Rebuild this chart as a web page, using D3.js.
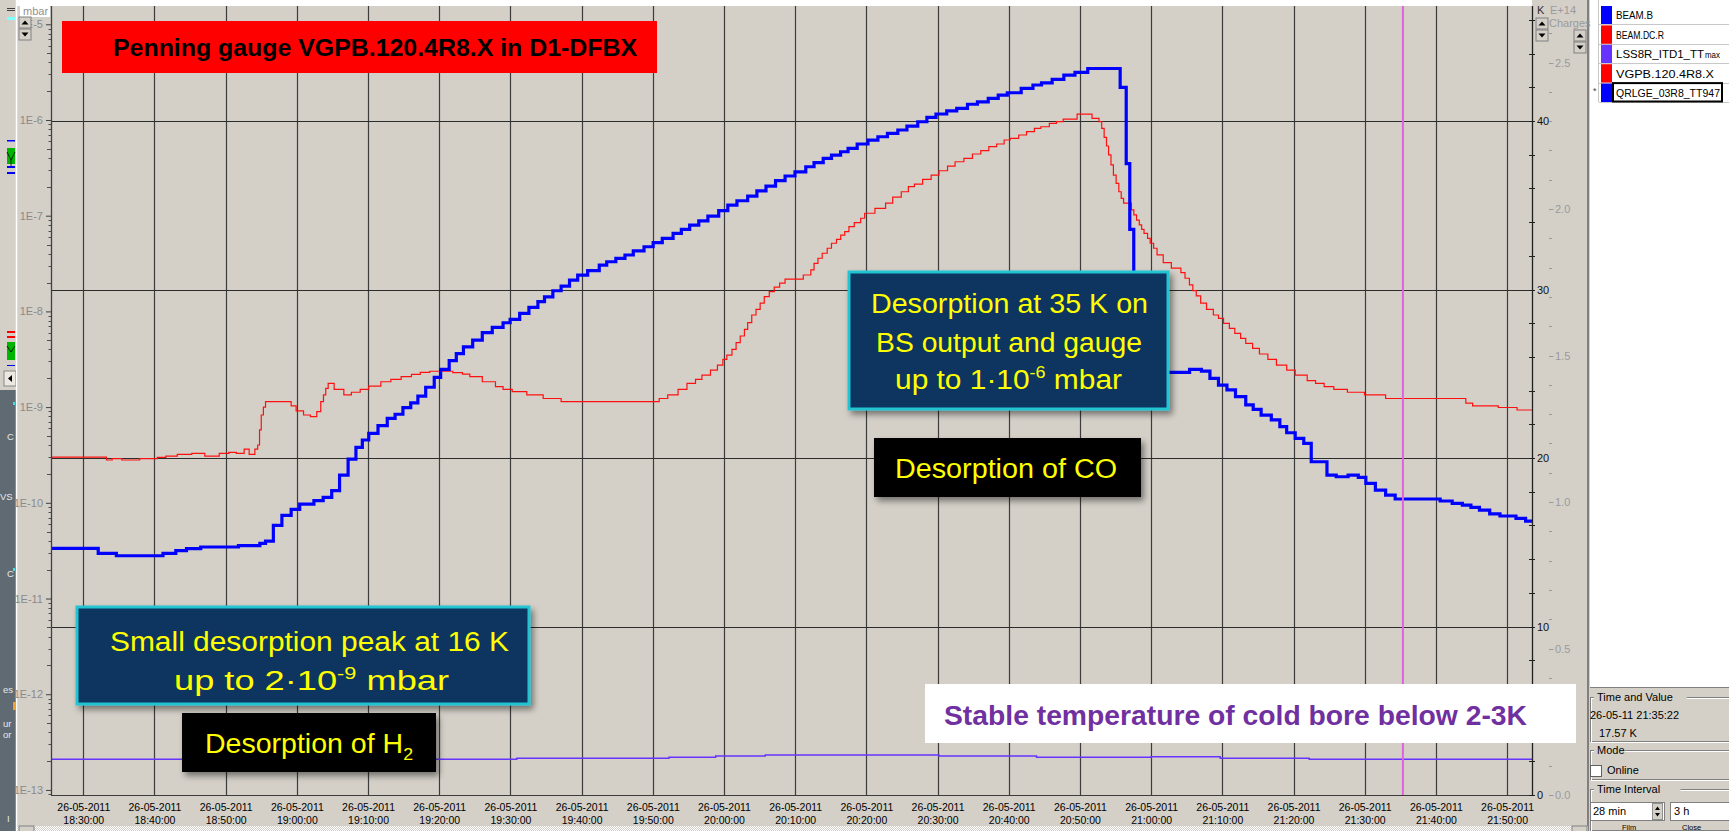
<!DOCTYPE html>
<html>
<head>
<meta charset="utf-8">
<script src="https://cdn.jsdelivr.net/npm/d3@7/dist/d3.min.js"></script>
<style>
html,body{margin:0;padding:0;background:#fff;overflow:hidden;}
svg{display:block;}
text{font-family:"Liberation Sans",Arial,sans-serif;}
</style>
</head>
<body>
<svg id="chart" width="1729" height="831"></svg>
<script>
// ------------------------- DATA -------------------------
const dateLabel = "26-05-2011";
const timeTickLabels = ["18:30:00","18:40:00","18:50:00","19:00:00","19:10:00","19:20:00","19:30:00",
  "19:40:00","19:50:00","20:00:00","20:10:00","20:20:00","20:30:00","20:40:00","20:50:00","21:00:00",
  "21:10:00","21:20:00","21:30:00","21:40:00","21:50:00"];
const timeStart = "18:25:28";
const timeEnd = "21:53:30";
const cursorTime = "21:35:22";
const pressureDecades = [1e-5,1e-6,1e-7,1e-8,1e-9,1e-10,1e-11,1e-12,1e-13];
const kelvinLabels = [0,10,20,30,40];
const chargeLabels = [0.0,0.5,1.0,1.5,2.0,2.5];

// [minutes after 18:30:00, temperature K]  -- QRLGE_03R8_TT947 (blue)
const qrlgeTT947 = [[-4.5,14.64],[2.1,14.34],[4.65,14.2],[11.2,14.34],[13.0,14.5],[14.5,14.62],[16.5,14.72],
 [21.8,14.8],[24.8,14.94],[25.6,15.07],[26.7,16.0],[27.9,16.6],[29.2,16.95],[30.4,17.27],[32.4,17.47],
 [33.7,17.67],[34.9,18.06],[36.0,18.99],[37.2,19.94],[38.3,20.63],[39.2,21.07],[40.1,21.46],[41.4,21.92],
 [42.7,22.35],[43.8,22.6],[44.9,22.99],[46.0,23.28],[47.0,23.68],[48.1,24.2],[49.3,24.79],[50.2,25.26],
 [51.4,25.78],[52.4,26.2],[53.4,26.6],[54.7,27.0],[56.05,27.44],[57.45,27.75],[58.97,28.03],[59.96,28.23],
 [61.3,28.59],[62.6,28.94],[63.86,29.28],[64.79,29.57],[65.96,29.93],[67.12,30.2],[68.3,30.56],[69.45,30.86],
 [70.85,31.12],[72.48,31.45],[73.53,31.65],[74.81,31.85],[76.09,32.05],[77.26,32.3],[78.77,32.54],[80.05,32.78],
 [81.33,33.04],[82.85,33.33],[84.01,33.57],[85.18,33.83],[86.46,34.08],[87.74,34.36],[89.26,34.68],[90.54,35.01],
 [91.82,35.27],[93.33,35.55],[94.62,35.86],[95.9,36.14],[97.24,36.46],[98.58,36.74],[99.97,36.99],[101.49,37.29],
 [102.65,37.53],[103.94,37.79],[105.1,37.98],[106.38,38.18],[107.43,38.38],[108.71,38.64],[110.23,38.87],
 [111.62,39.07],[112.96,39.27],[114.42,39.47],[115.7,39.7],[117.22,39.96],[118.5,40.22],[119.78,40.42],
 [121.29,40.61],[122.69,40.75],[124.2,41.0],[125.6,41.14],[127.12,41.35],[128.52,41.54],[129.8,41.68],
 [131.75,41.94],[133.4,42.14],[134.6,42.27],[136.1,42.47],[137.74,42.73],[139.3,42.89],[141.1,43.12],
 [145.65,42.0],[146.5,37.48],[147.0,33.57],[147.56,25.09],[155.4,25.26],[157.06,25.16],[158.26,24.73],
 [159.46,24.33],[160.65,24.04],[161.85,23.64],[163.29,23.15],[164.34,22.89],[165.45,22.55],[166.88,22.26],
 [168.08,21.86],[169.04,21.5],[170.24,21.17],[171.44,20.87],[172.49,19.78],[174.7,18.99],[176.0,18.89],
 [177.67,18.99],[179.1,18.85],[180.16,18.5],[181.5,18.1],[182.94,17.8],[184.28,17.57],[190.6,17.45],
 [192.29,17.31],[193.72,17.21],[194.92,17.07],[196.12,16.91],[197.56,16.68],[199.0,16.56],[201.25,16.42],
 [202.6,16.26]];

// [minutes after 18:30:00, pressure mbar]  -- VGPB.120.4R8.X (red)
const vgpb120 = [[-4.54,3.0e-10],[3.26,2.8e-10],[4.06,2.89e-10],[5.4,2.8e-10],[7.93,2.89e-10],[10.4,2.99e-10],
 [11.6,3.08e-10],[13.2,3.21e-10],[15.24,3.29e-10],[17.07,3.08e-10],[19.1,3.29e-10],[20.46,3.37e-10],[21.5,3.29e-10],
 [22.6,3.63e-10],[23.3,3.21e-10],[24.1,3.63e-10],[24.5,4.02e-10],[24.76,5.77e-10],[25.0,8.27e-10],[25.3,1.0e-9],
 [25.6,1.14e-9],[29.2,1.03e-9],[29.9,9.12e-10],[30.94,8.27e-10],[31.9,7.94e-10],[32.8,8.95e-10],[33.36,1.14e-9],
 [33.74,1.34e-9],[34.06,1.57e-9],[34.4,1.77e-9],[35.24,1.53e-9],[36.6,1.34e-9],[37.66,1.43e-9],[38.9,1.53e-9],
 [40.1,1.66e-9],[41.8,1.84e-9],[43.2,1.95e-9],[44.65,2.08e-9],[46.1,2.2e-9],[47.34,2.31e-9],[48.68,2.37e-9],
 [51.9,2.29e-9],[53.26,2.21e-9],[54.3,2.08e-9],[56.05,1.84e-9],[57.9,1.64e-9],[58.97,1.53e-9],[60.25,1.45e-9],
 [62.3,1.34e-9],[64.6,1.23e-9],[67.12,1.14e-9],[80.9,1.23e-9],[82.1,1.34e-9],[83.55,1.53e-9],[84.8,1.77e-9],
 [86.0,1.95e-9],[86.9,2.16e-9],[88.1,2.43e-9],[89.08,2.75e-9],[89.84,3.15e-9],[90.4,3.5e-9],[91.12,4.01e-9],
 [91.7,4.71e-9],[92.28,5.53e-9],[92.87,6.5e-9],[93.33,7.62e-9],[93.9,9.17e-9],[94.5,1.05e-8],[95.08,1.22e-8],
 [95.66,1.43e-8],[96.36,1.61e-8],[97.06,1.79e-8],[97.82,1.97e-8],[98.58,2.17e-8],[101.14,2.4e-8],[102.2,2.71e-8],
 [102.65,3.18e-8],[103.2,3.59e-8],[103.8,4.05e-8],[104.5,4.57e-8],[105.1,5.15e-8],[105.8,5.67e-8],[106.4,6.28e-8],
 [106.96,6.8e-8],[107.55,7.67e-8],[108.3,8.45e-8],[109.2,9.4e-8],[109.76,1.06e-7],[111.2,1.19e-7],[112.7,1.35e-7],
 [113.7,1.56e-7],[114.9,1.78e-7],[115.9,2.01e-7],[116.75,2.14e-7],[117.9,2.4e-7],[119.1,2.66e-7],[120.2,2.95e-7],
 [121.4,3.3e-7],[122.46,3.66e-7],[123.7,3.98e-7],[124.9,4.41e-7],[126.07,4.78e-7],[127.2,5.26e-7],[128.3,5.61e-7],
 [129.35,6.18e-7],[130.2,6.44e-7],[131.4,6.97e-7],[132.5,7.55e-7],[133.6,8.18e-7],[134.5,8.5e-7],[135.7,9.23e-7],
 [136.7,9.6e-7],[137.65,1.02e-6],[139.6,1.15e-6],[141.7,1.04e-6],[142.68,9.6e-7],[143.06,8.18e-7],[143.4,6.59e-7],
 [143.73,5.35e-7],[144.02,4.31e-7],[144.36,3.39e-7],[144.7,2.66e-7],[145.08,2.18e-7],[145.46,1.78e-7],
 [145.8,1.52e-7],[146.13,1.35e-7],[147.23,1.15e-7],[147.57,1.02e-7],[147.95,9.0e-8],[148.34,8.0e-8],
 [148.67,7.21e-8],[149.0,6.55e-8],[149.5,5.8e-8],[149.87,5.15e-8],[150.35,4.57e-8],[150.83,3.89e-8],
 [151.7,3.23e-8],[152.84,2.83e-8],[154.18,2.54e-8],[154.76,2.22e-8],[155.38,1.89e-8],[155.86,1.65e-8],
 [156.34,1.45e-8],[156.96,1.22e-8],[157.78,1.05e-8],[158.74,9.17e-9],[159.46,8.47e-9],[160.17,7.51e-9],
 [160.99,6.66e-9],[161.75,5.9e-9],[162.57,5.23e-9],[163.29,4.64e-9],[164.25,4.11e-9],[165.21,3.59e-9],
 [166.4,3.16e-9],[167.6,2.75e-9],[169.04,2.44e-9],[170.24,2.16e-9],[171.92,1.89e-9],[173.1,1.77e-9],
 [174.3,1.64e-9],[175.66,1.53e-9],[177.57,1.43e-9],[179.97,1.34e-9],[182.94,1.23e-9],[194.2,1.1e-9],
 [195.16,1.03e-9],[198.76,9.9e-10],[201.4,9.33e-10]];

// [minutes after 18:30:00, temperature K]  -- LSS8R_ITD1_TTmax (violet)
const lss8rTTmax = [[-4.54,2.12],[60.9,2.18],[82.27,2.24],[88.83,2.31],[95.8,2.37],[120.2,2.31],
 [133.9,2.24],[150.0,2.27],[159.7,2.18],[172.2,2.12]];

const legendNames = ["BEAM.B","BEAM.DC.R","LSS8R_ITD1_TT","VGPB.120.4R8.X","QRLGE_03R8_TT947"];
const legendColors = ["#0000ff","#ff0000","#6633ff","#ff0000","#0000ff"];

// ------------------------- SETUP -------------------------
const svg = d3.select("#chart");
const P = {l:51, r:1532, t:6, b:795};
const parse = d3.timeParse("%d-%m-%Y %H:%M:%S");
const t0 = parse(dateLabel + " 18:30:00");
const atMin = m => new Date(t0.getTime() + m*60000);

const x = d3.scaleTime()
  .domain([parse(dateLabel+" "+timeStart), parse(dateLabel+" "+timeEnd)])
  .range([P.l, P.r]);
const yP = d3.scaleLog().domain([Math.pow(10,-13.053), Math.pow(10,-4.809)]).range([P.b, P.t]);
const yK = d3.scaleLinear().domain([0, 46.83]).range([P.b, P.t]);
const yC = d3.scaleLinear().domain([0, 2.693]).range([P.b, P.t]);
const endM = (x.domain()[1] - t0) / 60000;

const defs = svg.append("defs");
defs.append("clipPath").attr("id","plotclip").append("rect")
  .attr("x",P.l).attr("y",P.t).attr("width",P.r-P.l).attr("height",P.b-P.t);
defs.append("clipPath").attr("id","leftclip").append("rect")
  .attr("x",0).attr("y",0).attr("width",16).attr("height",831);
const f = defs.append("filter").attr("id","shadow").attr("x","-10%").attr("y","-20%").attr("width","130%").attr("height","150%");
f.append("feDropShadow").attr("dx",3).attr("dy",4).attr("stdDeviation",3).attr("flood-color","#000").attr("flood-opacity",0.45);
const pat = defs.append("pattern").attr("id","hatch").attr("width",2).attr("height",2).attr("patternUnits","userSpaceOnUse");
pat.append("rect").attr("width",2).attr("height",2).attr("fill","#d4d0c8");
pat.append("rect").attr("width",1).attr("height",1).attr("fill","#ffffff");
pat.append("rect").attr("x",1).attr("y",1).attr("width",1).attr("height",1).attr("fill","#ffffff");

// ------------------------- BACKGROUND / UI FRAME -------------------------
svg.append("rect").attr("width",1729).attr("height",831).attr("fill","#d4d0c8");
svg.append("rect").attr("x",17).attr("y",0).attr("width",P.r-17).attr("height",P.t).attr("fill","#ffffff");
svg.append("rect").attr("x",20).attr("y",0).attr("width",30).attr("height",17).attr("fill","#ffffff");
// left strip
svg.append("rect").attr("x",0).attr("y",0).attr("width",16).attr("height",390).attr("fill","#d4d0c8");
svg.append("rect").attr("x",0).attr("y",390).attr("width",16).attr("height",441).attr("fill","#5f6a72");
svg.append("line").attr("x1",16.5).attr("x2",16.5).attr("y1",0).attr("y2",831).attr("stroke","#ffffff").attr("stroke-width",1.5);
const ls = svg.append("g").attr("clip-path","url(#leftclip)");
ls.append("rect").attr("x",7).attr("y",8).attr("width",8).attr("height",1).attr("fill","#404040");
ls.append("rect").attr("x",7).attr("y",10).attr("width",8).attr("height",1).attr("fill","#404040");
ls.append("rect").attr("x",7).attr("y",17).attr("width",8).attr("height",3).attr("fill","#80ffff");
ls.append("rect").attr("x",7).attr("y",140).attr("width",8).attr("height",1.5).attr("fill","#0000ff");
ls.append("rect").attr("x",7).attr("y",148).attr("width",8).attr("height",16).attr("fill","#00b400");
ls.append("path").attr("d","M7,152 L11,160 L15,152 M11,160 L11,166").attr("stroke","#000").attr("fill","none").attr("stroke-width",0.8);
ls.append("rect").attr("x",7).attr("y",166).attr("width",8).attr("height",2).attr("fill","#0000ff");
ls.append("rect").attr("x",7).attr("y",172).attr("width",8).attr("height",2).attr("fill","#0000ff");
ls.append("rect").attr("x",7).attr("y",331).attr("width",8).attr("height",2).attr("fill","#ff0000");
ls.append("rect").attr("x",7).attr("y",336).attr("width",8).attr("height",2).attr("fill","#ff0000");
ls.append("rect").attr("x",7).attr("y",342).attr("width",8).attr("height",18).attr("fill","#00b400");
ls.append("path").attr("d","M7,346 L11,352 L15,346").attr("stroke","#000").attr("fill","none").attr("stroke-width",0.8);
ls.append("rect").attr("x",7).attr("y",365).attr("width",8).attr("height",1).attr("fill","#0000ff");
ls.append("rect").attr("x",4).attr("y",371).attr("width",12).attr("height",15).attr("fill","#ece9e2").attr("stroke","#888");
ls.append("path").attr("d","M8,378.5 L12,375 L12,382 Z").attr("fill","#000");
[["C",7,440],["VS",0,500],["C",7,577],["es",3,693],["ur",3,727],["or",3,738],["I",7,822]].forEach(d=>{
  ls.append("text").attr("x",d[1]).attr("y",d[2]).attr("font-size",9.5).attr("fill","#e8e8e8").text(d[0]);
});
ls.append("rect").attr("x",13).attr("y",402).attr("width",2).attr("height",3).attr("fill","#40e0e0");
ls.append("rect").attr("x",13).attr("y",568).attr("width",2).attr("height",3).attr("fill","#40e0e0");
ls.append("rect").attr("x",13).attr("y",702).attr("width",3).attr("height",8).attr("fill","#f0a030");

// right area & legend panel
svg.append("rect").attr("x",1590).attr("y",0).attr("width",139).attr("height",687).attr("fill","#ffffff");
svg.append("line").attr("x1",1588).attr("x2",1588).attr("y1",0).attr("y2",831).attr("stroke","#808080").attr("stroke-width",2);
svg.append("line").attr("x1",1590).attr("x2",1729).attr("y1",687.5).attr("y2",687.5).attr("stroke","#808080");

// ------------------------- GRID -------------------------
const tickDates = timeTickLabels.map(s => parse(dateLabel + " " + s));
const grid = svg.append("g");
grid.selectAll("line.v").data(tickDates).join("line").attr("class","v")
  .attr("x1",d=>Math.round(x(d))+0.5).attr("x2",d=>Math.round(x(d))+0.5)
  .attr("y1",P.t).attr("y2",P.b).attr("stroke","#3c3c3c").attr("stroke-width",1.2);
grid.selectAll("line.h").data([10,20,30,40]).join("line").attr("class","h")
  .attr("x1",P.l).attr("x2",P.r)
  .attr("y1",d=>Math.round(yK(d))+0.5).attr("y2",d=>Math.round(yK(d))+0.5)
  .attr("stroke","#2c2c2c").attr("stroke-width",1.2);

// ------------------------- SERIES -------------------------
function stepPath(data, yScale){
  const pts = data.concat([[endM, data[data.length-1][1]]]);
  return d3.line().x(d => x(atMin(d[0]))).y(d => yScale(d[1])).curve(d3.curveStepAfter)(pts);
}
const plot = svg.append("g").attr("clip-path","url(#plotclip)");
plot.append("path").attr("d",stepPath(lss8rTTmax,yK)).attr("fill","none").attr("stroke","#6633ff").attr("stroke-width",1.5);
plot.append("path").attr("d",stepPath(vgpb120,yP)).attr("fill","none").attr("stroke","#ff1010").attr("stroke-width",1.2);
plot.append("path").attr("d",stepPath(qrlgeTT947,yK)).attr("fill","none").attr("stroke","#0000ff").attr("stroke-width",3.2);
const cx = x(parse(dateLabel+" "+cursorTime));
plot.append("line").attr("x1",cx).attr("x2",cx).attr("y1",P.t).attr("y2",P.b).attr("stroke","#e060e0").attr("stroke-width",2);

// ------------------------- AXES -------------------------
// bottom time axis
const gx = svg.append("g").attr("transform",`translate(0,${P.b})`)
  .call(d3.axisBottom(x).tickValues(tickDates).tickSize(0).tickFormat(d3.timeFormat("%H:%M:%S")));
gx.select(".domain").remove();
gx.selectAll(".tick text").each(function(d){
  const t = d3.select(this);
  const hm = t.text();
  t.text(null).attr("dy",null).attr("y",null).attr("fill","#000").attr("font-size",10.5)
    .attr("font-family","'Liberation Sans',Arial,sans-serif");
  t.append("tspan").attr("x",0).attr("y",16).text(dateLabel);
  t.append("tspan").attr("x",0).attr("y",29).text(hm);
});
svg.append("line").attr("x1",P.l).attr("x2",P.r).attr("y1",P.b+0.5).attr("y2",P.b+0.5).attr("stroke","#3c3c3c").attr("stroke-width",1.2);

// left log axis
const gy = svg.append("g").attr("transform",`translate(${P.l},0)`)
  .call(d3.axisLeft(yP).tickValues(pressureDecades).tickSize(5)
    .tickFormat(d => "1E" + Math.round(Math.log10(d))));
gy.select(".domain").remove();
gy.selectAll(".tick line").attr("stroke","#404040");
gy.selectAll(".tick text").attr("fill","#8a8a8a").attr("font-size",11)
  .attr("font-family","'Liberation Sans',Arial,sans-serif");
const minor = [];
for (let k=-14;k<=-5;k++) for (let j=2;j<=9;j++){ const v=j*Math.pow(10,k); if (v>yP.domain()[0] && v<yP.domain()[1]) minor.push([v,j]); }
svg.append("g").selectAll("line").data(minor).join("line")
  .attr("x1",d=> P.l - (d[1]===5||d[1]===2 ? 4 : 2.5)).attr("x2",P.l)
  .attr("y1",d=>Math.round(yP(d[0]))+0.5).attr("y2",d=>Math.round(yP(d[0]))+0.5)
  .attr("stroke","#505050");
svg.append("line").attr("x1",P.l+0.5).attr("x2",P.l+0.5).attr("y1",P.t).attr("y2",P.b).attr("stroke","#404040").attr("stroke-width",1.3);

// right K axis
svg.append("line").attr("x1",P.r+0.5).attr("x2",P.r+0.5).attr("y1",P.t).attr("y2",P.b).attr("stroke","#202020").attr("stroke-width",1.3);
svg.append("g").selectAll("line").data(d3.range(0,47,2)).join("line")
  .attr("x1",P.r-3).attr("x2",P.r+3)
  .attr("y1",d=>Math.round(yK(d))+0.5).attr("y2",d=>Math.round(yK(d))+0.5)
  .attr("stroke","#202020");
svg.append("g").selectAll("text").data(kelvinLabels).join("text")
  .attr("x",P.r+5).attr("y",d=>yK(d)+4).attr("font-size",11).attr("fill","#111")
  .text(d=>d);

// charges axis
svg.append("g").selectAll("line").data(d3.range(0,27)).join("line")
  .attr("x1",1549).attr("x2",d=> d%5===0 ? 1553.5 : 1552)
  .attr("y1",d=>Math.round(yC(d/10))+0.5).attr("y2",d=>Math.round(yC(d/10))+0.5)
  .attr("stroke","#9a9a9a");
svg.append("g").selectAll("text").data(chargeLabels).join("text")
  .attr("x",1555).attr("y",d=>yC(d)+4).attr("font-size",11).attr("fill","#9a9a9a")
  .text(d=>d3.format(".1f")(d));

// axis titles & spin buttons
svg.append("text").attr("x",23).attr("y",15).attr("font-size",11).attr("fill","#909090").text("mbar");
svg.append("text").attr("x",1537).attr("y",14).attr("font-size",11).attr("fill","#303030").text("K");
svg.append("text").attr("x",1550).attr("y",14).attr("font-size",11).attr("fill","#9a9a9a").text("E+14");
svg.append("text").attr("x",1549).attr("y",27).attr("font-size",11).attr("fill","#9a9a9a").text("Charges");
function spin(x0,y0){
  const g = svg.append("g");
  [y0, y0+12].forEach((by,i)=>{
    g.append("rect").attr("x",x0).attr("y",by).attr("width",12).attr("height",11)
      .attr("fill","#d4d0c8").attr("stroke","#808080");
    const cx0=x0+6, yy=by+5.5;
    const d = i===0 ? `M${cx0-3.5},${yy+2} L${cx0},${yy-2} L${cx0+3.5},${yy+2} Z` : `M${cx0-3.5},${yy-2} L${cx0},${yy+2} L${cx0+3.5},${yy-2} Z`;
    g.append("path").attr("d",d).attr("fill","#000");
  });
}
spin(19,17); spin(1536,18); spin(1574,30);

// bottom scrollbar
svg.append("rect").attr("x",17).attr("y",826).attr("width",1571).attr("height",5).attr("fill","url(#hatch)");
svg.append("rect").attr("x",19).attr("y",826).attr("width",15).attr("height",6).attr("fill","#d4d0c8").attr("stroke","#808080");
svg.append("rect").attr("x",1572).attr("y",826).attr("width",15).attr("height",6).attr("fill","#d4d0c8").attr("stroke","#808080");

// ------------------------- LEGEND -------------------------
const lg = svg.append("g");
const rowH = 19.4, row0 = 5;
const legendTextWidths = [37,48,88,98,104];
lg.append("line").attr("x1",1598.5).attr("x2",1598.5).attr("y1",0).attr("y2",row0+rowH*5).attr("stroke","#c8c8c8");
legendNames.forEach((n,i)=>{
  const yTop = row0 + i*rowH;
  lg.append("rect").attr("x",1601).attr("y",yTop+1).attr("width",11).attr("height",rowH-1).attr("fill",legendColors[i]);
  lg.append("line").attr("x1",1599).attr("x2",1729).attr("y1",Math.round(yTop+rowH)+0.5).attr("y2",Math.round(yTop+rowH)+0.5).attr("stroke","#c8c8c8");
  const t = lg.append("text").attr("x",1616).attr("y",yTop+rowH-5).attr("font-size",11).attr("fill","#000")
    .attr("textLength",legendTextWidths[i]).attr("lengthAdjust","spacingAndGlyphs").text(n);
  if (i===2) lg.append("text").attr("x",1616+legendTextWidths[i]+1).attr("y",yTop+rowH-5).attr("font-size",8.5)
    .attr("textLength",15).attr("lengthAdjust","spacingAndGlyphs").attr("fill","#000").text("max");
});
lg.append("rect").attr("x",1613).attr("y",row0+rowH*4+0.5).attr("width",109).attr("height",rowH-1).attr("fill","none").attr("stroke","#000").attr("stroke-width",2);
lg.append("text").attr("x",1593).attr("y",row0+rowH*4+11).attr("font-size",9).attr("fill","#404040").text("*");

// lower right controls
const ui = svg.append("g").attr("font-size",11);
function groupBox(y0,y1,title){
  ui.append("rect").attr("x",1590.5).attr("y",y0+0.5).attr("width",150).attr("height",y1-y0).attr("fill","none").attr("stroke","#808080");
  ui.append("rect").attr("x",1591.5).attr("y",y0+1.5).attr("width",150).attr("height",y1-y0).attr("fill","none").attr("stroke","#ffffff");
  const w = title.length*6.2+6;
  ui.append("rect").attr("x",1594).attr("y",y0-6).attr("width",w).attr("height",12).attr("fill","#d4d0c8");
  ui.append("text").attr("x",1597).attr("y",y0+4).attr("fill","#000").text(title);
}
groupBox(697,741,"Time and Value");
ui.append("text").attr("x",1590).attr("y",719).attr("fill","#000").text("26-05-11 21:35:22");
ui.append("text").attr("x",1599).attr("y",737).attr("fill","#000").text("17.57 K");
groupBox(750,779,"Mode");
ui.append("rect").attr("x",1590.5).attr("y",765.5).attr("width",11).attr("height",11).attr("fill","#fff").attr("stroke","#606060");
ui.append("text").attr("x",1607).attr("y",774).attr("fill","#000").text("Online");
groupBox(789,830,"Time Interval");
ui.append("rect").attr("x",1590.5).attr("y",802.5).attr("width",74).attr("height",18).attr("fill","#fff").attr("stroke","#808080");
ui.append("text").attr("x",1593).attr("y",815).attr("fill","#000").text("28 min");
ui.append("rect").attr("x",1652.5).attr("y",803.5).attr("width",10).attr("height",16).attr("fill","#d4d0c8").attr("stroke","#909090");
ui.append("path").attr("d","M1655,810 L1657.5,806.5 L1660,810 Z M1655,813 L1657.5,816.5 L1660,813 Z").attr("fill","#000");
ui.append("rect").attr("x",1670.5).attr("y",802.5).attr("width",60).attr("height",18).attr("fill","#fff").attr("stroke","#808080");
ui.append("text").attr("x",1674).attr("y",815).attr("fill","#000").text("3 h");
ui.append("text").attr("x",1622).attr("y",830).attr("font-size",7.5).attr("fill","#000").text("Film");
ui.append("text").attr("x",1682).attr("y",830).attr("font-size",7.5).attr("fill","#000").text("Close");

// ------------------------- ANNOTATIONS -------------------------
const ann = svg.append("g").attr("font-family","Lato,'Noto Sans',sans-serif");
function panel(x0,y0,w,h,fill,stroke,sw,shadow){
  const r = ann.append("rect").attr("x",x0).attr("y",y0).attr("width",w).attr("height",h).attr("fill",fill);
  if (stroke) r.attr("stroke",stroke).attr("stroke-width",sw);
  if (shadow) r.attr("filter","url(#shadow)");
}
function line(x0,y0,len,size,color,parts,weight){
  const t = ann.append("text").attr("x",x0).attr("y",y0).attr("font-size",size).attr("fill",color)
    .attr("font-weight",weight||400).attr("textLength",len).attr("lengthAdjust","spacingAndGlyphs");
  parts.forEach(p=>{
    const s = t.append("tspan").text(p.t);
    if (p.sup) s.attr("dy",-11).attr("font-size",size*0.6);
    if (p.sub) s.attr("dy",7).attr("font-size",size*0.62);
    if (p.back) s.attr("dy",p.back);
  });
}
// title
panel(62,21,595,52,"#ff0000",null,0,false);
line(113,56,524,24,"#000",[{t:"Penning gauge VGPB.120.4R8.X in D1-DFBX"}],900);
// CO 35 K box
panel(849,272,319,137,"#0b3561","#22c4d2",3,true);
line(871,313,277,27,"#ffff00",[{t:"Desorption at 35 K on"}]);
line(876,352,266,27,"#ffff00",[{t:"BS output and gauge"}]);
line(895,389,227,27,"#ffff00",[{t:"up to 1·10"},{t:"-6",sup:true},{t:" mbar",back:11}]);
// CO label
panel(874,438,267,59,"#000000",null,0,true);
line(895,478,222,27,"#ffff00",[{t:"Desorption of CO"}]);
// 16 K box
panel(77,607,452,97,"#0b3561","#22c4d2",3,true);
line(110,651,399,27,"#ffff00",[{t:"Small desorption peak at 16 K"}]);
line(174,690,275,27,"#ffff00",[{t:"up to 2·10"},{t:"-9",sup:true},{t:"  mbar",back:11}]);
// H2 label
panel(182,713,254,59,"#000000",null,0,true);
line(205,753,208,28,"#ffff00",[{t:"Desorption of H"},{t:"2",sub:true}]);
// stable temperature
panel(925,684,651,59,"#ffffff",null,0,false);
line(944,725,583,28,"#7030a0",[{t:"Stable temperature of cold bore below 2-3K"}],700);
</script>
</body>
</html>
